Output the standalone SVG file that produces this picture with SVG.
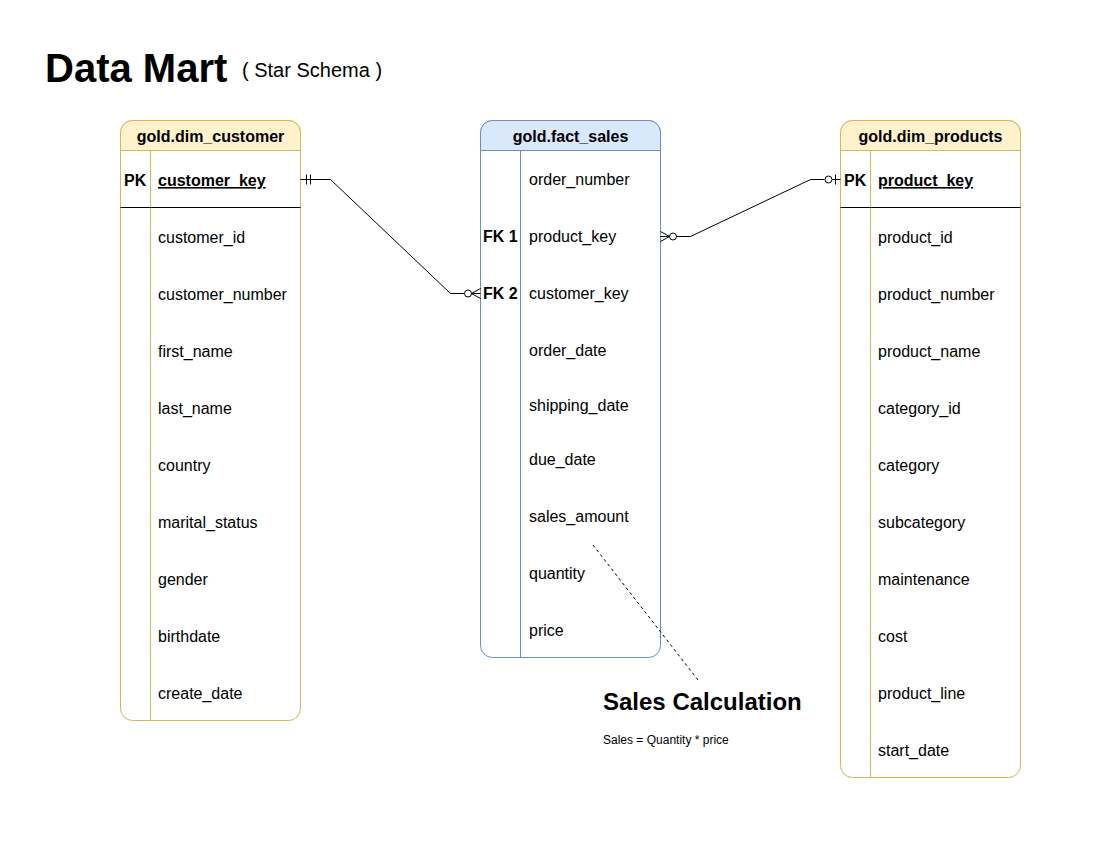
<svg xmlns="http://www.w3.org/2000/svg" width="1100" height="850" viewBox="0 0 1100 850">
<style>
text{font-family:"Liberation Sans",Arial,sans-serif;fill:#000}
.hdr{font-size:16px;font-weight:bold;text-anchor:middle}
.row{font-size:16px}
.key{font-size:16px;font-weight:bold}
.pk{font-weight:bold;text-decoration:underline}
.yb{fill:#fff;stroke:#d6b656;stroke-width:1}
.yh{fill:#fff2cc;stroke:#d6b656;stroke-width:1}
.bb{fill:#fff;stroke:#6c8ebf;stroke-width:1}
.bh{fill:#dae8fc;stroke:#6c8ebf;stroke-width:1}
.ln{stroke:#000;stroke-width:1;fill:none}
.cn{stroke:#000;stroke-width:1;fill:none}
.circ{stroke:#000;stroke-width:1;fill:#fff}
</style>
<rect width="1100" height="850" fill="#fff"/>
<g id="title">
<text x="45" y="82" style="font-size:40px;font-weight:bold">Data Mart</text>
<text x="242" y="77" style="font-size:20px">( Star Schema )</text>
</g>
<g id="dim_customer">
<rect class="yb" x="120.5" y="120.5" width="180" height="600" rx="12"/>
<path class="yh" d="M120.5,150.5 V132.5 A12,12 0 0 1 132.5,120.5 H288.5 A12,12 0 0 1 300.5,132.5 V150.5 Z"/>
<text class="hdr" x="210.5" y="142">gold.dim_customer</text>
<line x1="150.5" y1="150.5" x2="150.5" y2="720.5" stroke="#d6b656"/>
<line class="ln" x1="120.5" y1="207.5" x2="300.5" y2="207.5"/>
<text class="key" x="124" y="186">PK</text>
<text class="row pk" x="158" y="186">customer_key</text>
<text class="row" x="158" y="243">customer_id</text>
<text class="row" x="158" y="300">customer_number</text>
<text class="row" x="158" y="357">first_name</text>
<text class="row" x="158" y="414">last_name</text>
<text class="row" x="158" y="471">country</text>
<text class="row" x="158" y="528">marital_status</text>
<text class="row" x="158" y="585">gender</text>
<text class="row" x="158" y="642">birthdate</text>
<text class="row" x="158" y="699">create_date</text>
</g>
<g id="fact_sales">
<rect class="bb" x="480.5" y="120.5" width="180" height="537" rx="12"/>
<path class="bh" d="M480.5,150.5 V132.5 A12,12 0 0 1 492.5,120.5 H648.5 A12,12 0 0 1 660.5,132.5 V150.5 Z"/>
<text class="hdr" x="570.5" y="142">gold.fact_sales</text>
<line x1="520.5" y1="150.5" x2="520.5" y2="657.5" stroke="#6c8ebf"/>
<text class="key" x="483" y="242">FK 1</text>
<text class="key" x="483" y="299">FK 2</text>
<text class="row" x="529" y="185">order_number</text>
<text class="row" x="529" y="242">product_key</text>
<text class="row" x="529" y="299">customer_key</text>
<text class="row" x="529" y="356">order_date</text>
<text class="row" x="529" y="411">shipping_date</text>
<text class="row" x="529" y="465">due_date</text>
<text class="row" x="529" y="522">sales_amount</text>
<text class="row" x="529" y="579">quantity</text>
<text class="row" x="529" y="636">price</text>
</g>
<g id="dim_products">
<rect class="yb" x="840.5" y="120.5" width="180" height="657" rx="12"/>
<path class="yh" d="M840.5,150.5 V132.5 A12,12 0 0 1 852.5,120.5 H1008.5 A12,12 0 0 1 1020.5,132.5 V150.5 Z"/>
<text class="hdr" x="930.5" y="142">gold.dim_products</text>
<line x1="870.5" y1="150.5" x2="870.5" y2="777.5" stroke="#d6b656"/>
<line class="ln" x1="840.5" y1="207.5" x2="1020.5" y2="207.5"/>
<text class="key" x="844" y="186">PK</text>
<text class="row pk" x="878" y="186">product_key</text>
<text class="row" x="878" y="243">product_id</text>
<text class="row" x="878" y="300">product_number</text>
<text class="row" x="878" y="357">product_name</text>
<text class="row" x="878" y="414">category_id</text>
<text class="row" x="878" y="471">category</text>
<text class="row" x="878" y="528">subcategory</text>
<text class="row" x="878" y="585">maintenance</text>
<text class="row" x="878" y="642">cost</text>
<text class="row" x="878" y="699">product_line</text>
<text class="row" x="878" y="756">start_date</text>
</g>
<g id="connectors">
<path class="cn" d="M300.5,179.5 H330.5 L450.5,293.5 H464"/>
<line class="cn" x1="306.5" y1="174.5" x2="306.5" y2="184.5"/>
<line class="cn" x1="310.5" y1="174.5" x2="310.5" y2="184.5"/>
<circle class="circ" cx="468" cy="293.5" r="3.5"/>
<path class="cn" d="M480.5,288.5 L471.5,293.5 L480.5,298.5 M471.5,293.5 H480.5"/>
<path class="cn" d="M660.5,231.5 L669.5,236.5 L660.5,241.5 M660.5,236.5 H669"/>
<circle class="circ" cx="673" cy="236.5" r="3.5"/>
<path class="cn" d="M676.5,236.5 H690.5 L810.5,179.5 H824.5"/>
<circle class="circ" cx="828.5" cy="179.5" r="3.5"/>
<path class="cn" d="M832,179.5 H840.5 M835.5,174.5 V184.5"/>
<line class="cn" x1="593" y1="545" x2="698" y2="680" stroke-dasharray="3 3"/>
</g>
<g id="note">
<text x="603" y="710" style="font-size:24px;font-weight:bold">Sales Calculation</text>
<text x="603" y="744" style="font-size:12px">Sales = Quantity * price</text>
</g>
</svg>
